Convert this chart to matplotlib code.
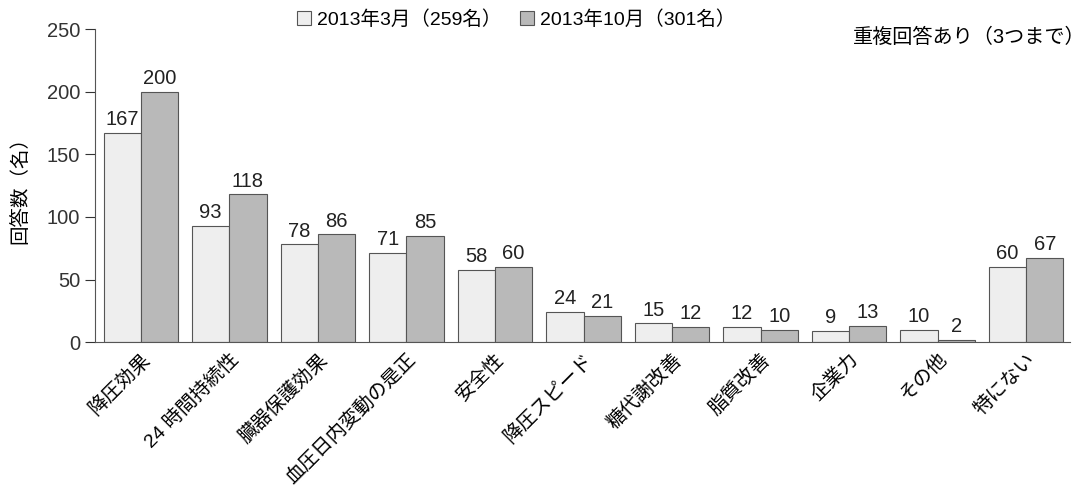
import matplotlib.pyplot as plt
import matplotlib.patches as patches
import numpy as np

plt.rcParams['font.family'] = ['Liberation Sans', 'Noto Sans CJK JP', 'DejaVu Sans']

categories = ["降圧効果", "24 時間持続性", "臓器保護効果", "血圧日内変動の是正", "安全性",
              "降圧スピード", "糖代謝改善", "脂質改善", "企業力", "その他", "特にない"]
mar_2013 = [167, 93, 78, 71, 58, 24, 15, 12, 9, 10, 60]
oct_2013 = [200, 118, 86, 85, 60, 21, 12, 10, 13, 2, 67]
series_names = ["2013年3月（259名）", "2013年10月（301名）"]
y_ticks = [0, 50, 100, 150, 200, 250]

LIGHT = "#eeeeee"
DARK = "#b9b9b9"
EDGE = "#555555"

fig = plt.figure(figsize=(10.89, 4.93), dpi=100)
ax = fig.add_axes([0.087, 0.306, 0.896, 0.635])

x = np.arange(len(categories))
w = 0.42
b1 = ax.bar(x - w / 2, mar_2013, w, color=LIGHT, edgecolor=EDGE, linewidth=0.8)
b2 = ax.bar(x + w / 2, oct_2013, w, color=DARK, edgecolor=EDGE, linewidth=0.8)

# value labels above each bar
for bars, vals in ((b1, mar_2013), (b2, oct_2013)):
    for r, v in zip(bars, vals):
        ax.text(r.get_x() + r.get_width() / 2, v + 3, str(v),
                ha="center", va="bottom", fontsize=14.5, color="#222")

ax.set_xlim(-0.52, 10.5)
ax.set_ylim(0, 250)
ax.set_yticks(y_ticks)
ax.tick_params(axis="y", labelsize=14.5, length=7, width=0.8, colors="#333")
ax.set_xticks(x)
ax.set_xticklabels(categories, rotation=45, ha="right", va="top",
                   rotation_mode="anchor", fontsize=14)
ax.tick_params(axis="x", length=0, pad=6)
for s in ("top", "right"):
    ax.spines[s].set_visible(False)
ax.spines["left"].set_color("#555")
ax.spines["bottom"].set_color("#555")
ax.set_ylabel("回答数（名）", fontsize=14, labelpad=12)

handles = [patches.Patch(facecolor=LIGHT, edgecolor=EDGE, linewidth=0.8),
           patches.Patch(facecolor=DARK, edgecolor=EDGE, linewidth=0.8)]
fig.legend(handles, series_names, loc="upper center", bbox_to_anchor=(0.474, 1.015),
           ncol=2, frameon=False, fontsize=14, handlelength=0.7, handleheight=0.7,
           handletextpad=0.3, columnspacing=1.0)

fig.text(0.997, 0.925, "重複回答あり（3つまで）", ha="right", va="center", fontsize=14.5)

fig.savefig("out.png", dpi=100)
